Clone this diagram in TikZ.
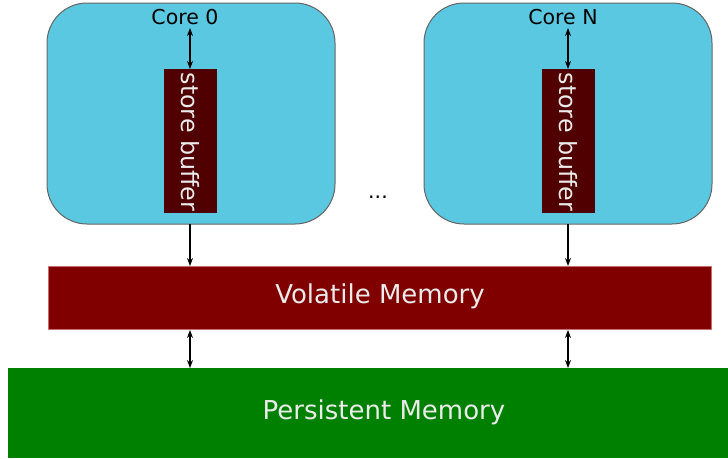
\documentclass[tikz,border=0pt]{standalone}
\usepackage{fontspec}
\setmainfont{DejaVu Sans}
\usetikzlibrary{arrows.meta}
\definecolor{corefill}{RGB}{91,200,226}
\definecolor{coreedge}{RGB}{100,100,100}
\definecolor{sbfill}{RGB}{80,0,0}
\definecolor{volfill}{RGB}{128,0,0}
\definecolor{voledge}{RGB}{200,110,110}
\definecolor{perfill}{RGB}{0,128,0}
\definecolor{lighttext}{RGB}{235,235,235}
\tikzset{
  corebox/.style={draw=coreedge, line width=1pt, fill=corefill, rounded corners=40pt},
  sbbox/.style={fill=sbfill},
  lbl/.style={inner sep=0pt, font=\fontsize{20.5}{24}\selectfont},
  sblbl/.style={inner sep=0pt, text=lighttext, rotate=-90, font=\fontsize{23.8}{28}\selectfont},
  biglbl/.style={inner sep=0pt, text=lighttext, font=\fontsize{26}{30}\selectfont},
  arr/.style={-{Stealth[length=8pt,width=6pt]}, line width=1.2pt},
  darr/.style={{Stealth[length=8pt,width=6pt]}-{Stealth[length=8pt,width=6pt]}, line width=1.2pt}
}
\begin{document}
\begin{tikzpicture}[x=1pt,y=-1pt]
\useasboundingbox (0,0) rectangle (728,458);
% cores
\draw[corebox] (47,3) rectangle (335,224);
\draw[corebox] (424,3) rectangle (712,224);
\coordinate (c0b) at (190,224);
\coordinate (cNb) at (568,224);
% store buffers
\fill[sbbox] (164,69) rectangle (217,213);
\fill[sbbox] (542,69) rectangle (595,213);
\coordinate (sb0t) at (190,69);
\coordinate (sbNt) at (568,69);
\node[sblbl] (sb0) at (190.5,142) {store buffer};
\node[sblbl] (sbN) at (568.5,142) {store buffer};
% core labels
\node[lbl, anchor=base] (core0) at (185,24) {Core 0};
\node[lbl, anchor=base] (coreN) at (563,24) {Core N};
\node[lbl, anchor=base] (dots) at (378,198) {...};
% volatile
\draw[draw=voledge, line width=0.6pt, fill=volfill] (48,266) rectangle (711,329);
\node[biglbl] (vol) at (380,296) {Volatile Memory};
\coordinate (v0t) at (190,266);
\coordinate (vNt) at (568,266);
\coordinate (v0b) at (190,330);
\coordinate (vNb) at (568,330);
% persistent
\fill[perfill] (8,368) rectangle (728,458);
\node[biglbl] (per) at (384,412) {Persistent Memory};
\coordinate (p0t) at (190,368);
\coordinate (pNt) at (568,368);
% arrows
\draw[darr] (190,28) -- (sb0t);
\draw[darr] (568,28) -- (sbNt);
\draw[arr] (c0b) -- (v0t);
\draw[arr] (cNb) -- (vNt);
\draw[darr] (v0b) -- (p0t);
\draw[darr] (vNb) -- (pNt);
\end{tikzpicture}
\end{document}
